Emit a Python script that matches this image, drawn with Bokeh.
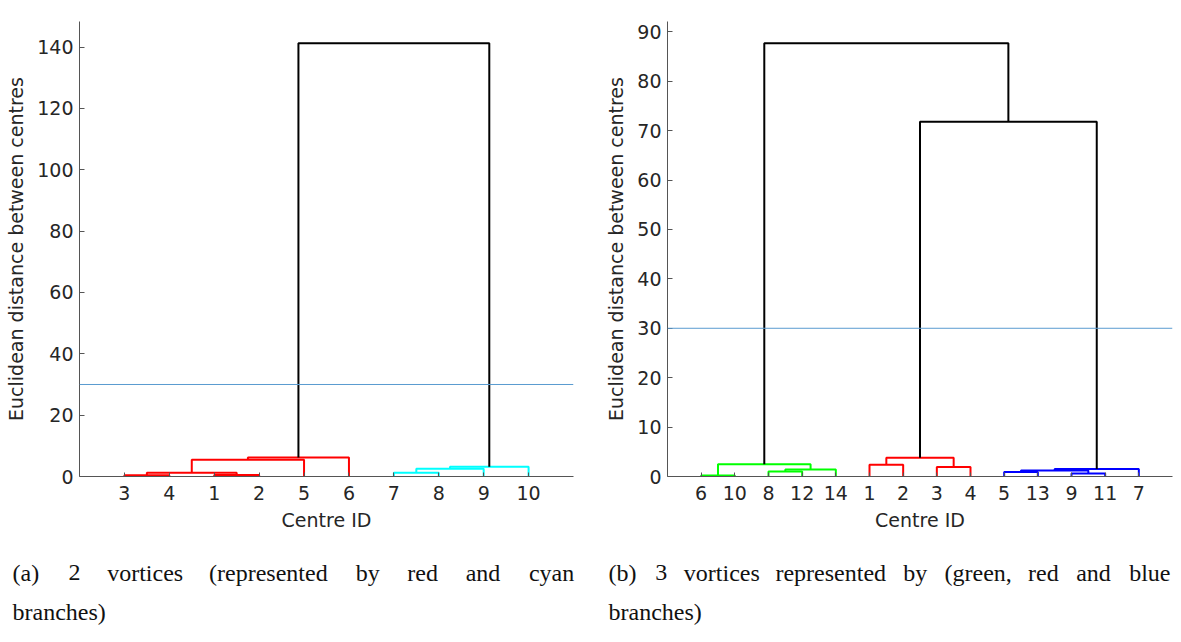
from bokeh.plotting import figure
from bokeh.layouts import row, column
from bokeh.models import Range1d, FixedTicker, Span
from bokeh.core.properties import value
from bokeh.embed import file_html
from bokeh.resources import INLINE

# ---- panel (a): leaf order along the x axis and the merges (scipy-style node ids)
a_leaf_ids = [3, 4, 1, 2, 5, 6, 7, 8, 9, 10]
a_left = [0, 2, 10, 12, 13, 6, 15, 16, 14]
a_right = [1, 3, 11, 4, 5, 7, 8, 9, 17]
a_height = [0.4, 0.45, 1.2, 5.5, 6.2, 1.2, 2.5, 3.15, 141.3]
a_colour = ["#ff0000"] * 5 + ["#00ffff"] * 3 + ["#000000"]
a_y_ticks = [0, 20, 40, 60, 80, 100, 120, 140]

# ---- panel (b)
b_leaf_ids = [6, 10, 8, 12, 14, 1, 2, 3, 4, 5, 13, 9, 11, 7]
b_left = [0, 2, 15, 14, 5, 7, 18, 9, 11, 21, 23, 20, 17]
b_right = [1, 3, 4, 16, 6, 8, 19, 10, 12, 22, 13, 24, 25]
b_height = [0.2, 1.0, 1.4, 2.5, 2.4, 1.9, 3.8, 0.9, 0.6, 1.2, 1.5, 71.8, 87.7]
b_colour = ["#00ff00"] * 4 + ["#ff0000"] * 3 + ["#0000ff"] * 4 + ["#000000"] * 2
b_y_ticks = [0, 10, 20, 30, 40, 50, 60, 70, 80, 90]

cutoff = 30

a_caption_1 = "(a) 2 vortices (represented by red and cyan"
a_caption_2 = "branches)"
b_caption_1 = "(b) 3 vortices represented by (green, red and blue"
b_caption_2 = "branches)"

TXT = "#262626"
AX = "#555555"
FONT = "DejaVu Sans"
SERIF = "Liberation Serif"
CAP_PX = 24
PANEL_H = 540
CAP_H = 642 - PANEL_H

# typographic advance widths (1/1000 em) of a roman text face at 22px,
# used to lay out justified caption lines word by word
ROMAN_PX = 22
ROMAN_W = {"(": 389, ")": 389, ",": 278, "a": 500, "b": 556, "c": 444, "d": 556,
           "e": 444, "g": 500, "h": 556, "i": 278, "l": 278, "n": 556, "o": 500,
           "p": 556, "r": 392, "s": 394, "t": 389, "u": 556, "v": 528, "y": 528}


def word_px(w):
    return sum(ROMAN_W.get(ch, 500) for ch in w) * ROMAN_PX / 1000.0


def justified(text, x0, x1):
    words = text.split()
    widths = [word_px(w) for w in words]
    gap = (x1 - x0 - sum(widths)) / (len(words) - 1)
    xs, x = [], x0
    for w in widths:
        xs.append(x)
        x += w + gap
    return words, xs


def links(n, left, right, height):
    """Return the U-shaped link paths of a dendrogram."""
    pos = {i: (i + 1.0, 0.0) for i in range(n)}
    xs, ys = [], []
    for k, (l, r, h) in enumerate(zip(left, right, height)):
        xl, yl = pos[l]
        xr, yr = pos[r]
        xs.append([xl, xl, xr, xr])
        ys.append([yl, h, h, yr])
        pos[n + k] = ((xl + xr) / 2.0, h)
    return xs, ys


def panel(leaf_ids, left, right, height, colour, y_ticks, width, borders):
    n = len(leaf_ids)
    top = max(height) * 1.05
    bl, br, bt, bb = borders
    p = figure(width=width, height=PANEL_H, output_backend="svg", toolbar_location=None,
               x_range=Range1d(0, n + 1), y_range=Range1d(0, top),
               min_border_left=bl, min_border_right=br, min_border_top=bt,
               min_border_bottom=bb)
    p.outline_line_color = None
    p.xgrid.visible = False
    p.ygrid.visible = False

    xs, ys = links(n, left, right, height)
    p.multi_line(xs=xs, ys=ys, line_color=colour, line_width=2)
    p.add_layout(Span(location=cutoff, dimension="width",
                      line_color="#5a9bd0", line_width=1))

    positions = list(range(1, n + 1))
    p.xaxis.ticker = FixedTicker(ticks=positions)
    p.xaxis.major_label_overrides = {pos: str(i) for pos, i in zip(positions, leaf_ids)}
    p.yaxis.ticker = FixedTicker(ticks=y_ticks)
    p.xaxis.axis_label = "Centre ID"
    p.yaxis.axis_label = "Euclidean distance between centres"

    for ax in (p.xaxis[0], p.yaxis[0]):
        ax.axis_line_color = AX
        ax.major_tick_line_color = AX
        ax.minor_tick_line_color = None
        ax.major_tick_out = 0
        ax.major_label_text_font = FONT
        ax.major_label_text_font_size = "19px"
        ax.major_label_text_color = TXT
        ax.axis_label_text_font = FONT
        ax.axis_label_text_font_size = "19px"
        ax.axis_label_text_font_style = "normal"
        ax.axis_label_text_color = TXT
    p.xaxis.major_tick_in = 4
    p.yaxis.major_tick_in = 5
    p.xaxis.major_label_standoff = 9
    p.xaxis.axis_label_standoff = 6
    p.yaxis.major_label_standoff = 6
    p.yaxis.axis_label_standoff = 7
    return p


def caption(width, lines):
    """A bare strip of text set in screen pixels (y measured up from the strip's bottom)."""
    c = figure(width=width, height=CAP_H, output_backend="svg", toolbar_location=None,
               x_range=Range1d(0, width), y_range=Range1d(0, CAP_H), min_border=0)
    c.axis.visible = False
    c.grid.visible = False
    c.outline_line_color = None
    for words, xs, y in lines:
        c.text(x=xs, y=[y] * len(words), text=words, text_font=value(SERIF),
               text_font_size=f"{CAP_PX}px", text_color="#111111",
               text_baseline="alphabetic", text_align="left")
    return c


pa = panel(a_leaf_ids, a_left, a_right, a_height, a_colour, a_y_ticks, 590,
           (79, 17, 21, PANEL_H - 477))
pb = panel(b_leaf_ids, b_left, b_right, b_height, b_colour, b_y_ticks, 591,
           (77, 9, 9, PANEL_H - 476))

# both first lines are set full measure; the second lines run ragged
ca = caption(590, [(*justified(a_caption_1, 12, 573), 70),
                   ([a_caption_2], [12], 31)])
cb = caption(591, [(*justified(b_caption_1, 18, 579), 70),
                   ([b_caption_2], [18], 31)])

p = column(row(pa, pb), row(ca, cb))
open("out.html", "w").write(file_html(p, INLINE))
